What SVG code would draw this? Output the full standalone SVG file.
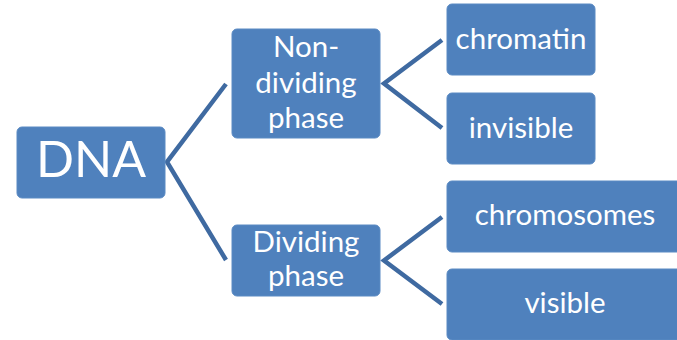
<svg xmlns="http://www.w3.org/2000/svg" width="677" height="340" viewBox="0 0 677 340">
<style>
.box{fill:#4f81bd;stroke:#5a8ac3;stroke-width:1}
.t{fill:#ffffff;font-family:Lato,"Open Sans","Liberation Sans",sans-serif;text-anchor:middle}
.m{font-size:29.5px}
.conn{fill:none;stroke:#3f6aa1;stroke-width:4.5;stroke-linejoin:miter}
</style>
<rect width="677" height="340" fill="#ffffff"/>
<g id="connectors">
<polyline class="conn" points="226,84 167,162 226,260"/>
<polyline class="conn" points="442,40 384,83.5 442,128"/>
<polyline class="conn" points="442,217 384,260.5 442,304"/>
</g>
<g id="dna">
<rect class="box" x="17" y="127" width="148" height="71" rx="5"/>
<text class="t" x="91" y="177" font-size="50">DNA</text>
</g>
<g id="nondividing">
<rect class="box" x="232" y="29" width="148" height="109" rx="5"/>
<text class="t m" x="306" y="57">Non-</text>
<text class="t m" x="306" y="93">dividing</text>
<text class="t m" x="306" y="128">phase</text>
</g>
<g id="dividing">
<rect class="box" x="232" y="225" width="148" height="71" rx="5"/>
<text class="t m" x="306" y="252">Dividing</text>
<text class="t m" x="306" y="286">phase</text>
</g>
<g id="chromatin">
<rect class="box" x="447" y="4" width="148" height="71" rx="5"/>
<text class="t m" x="521" y="49">chromatin</text>
</g>
<g id="invisible">
<rect class="box" x="447" y="93" width="148" height="71" rx="5"/>
<text class="t m" x="521" y="138">invisible</text>
</g>
<g id="chromosomes">
<rect class="box" x="447" y="181" width="236" height="71" rx="5"/>
<text class="t m" x="565" y="225">chromosomes</text>
</g>
<g id="visible">
<rect class="box" x="447" y="269" width="236" height="71" rx="5"/>
<text class="t m" x="565" y="313">visible</text>
</g>
</svg>
